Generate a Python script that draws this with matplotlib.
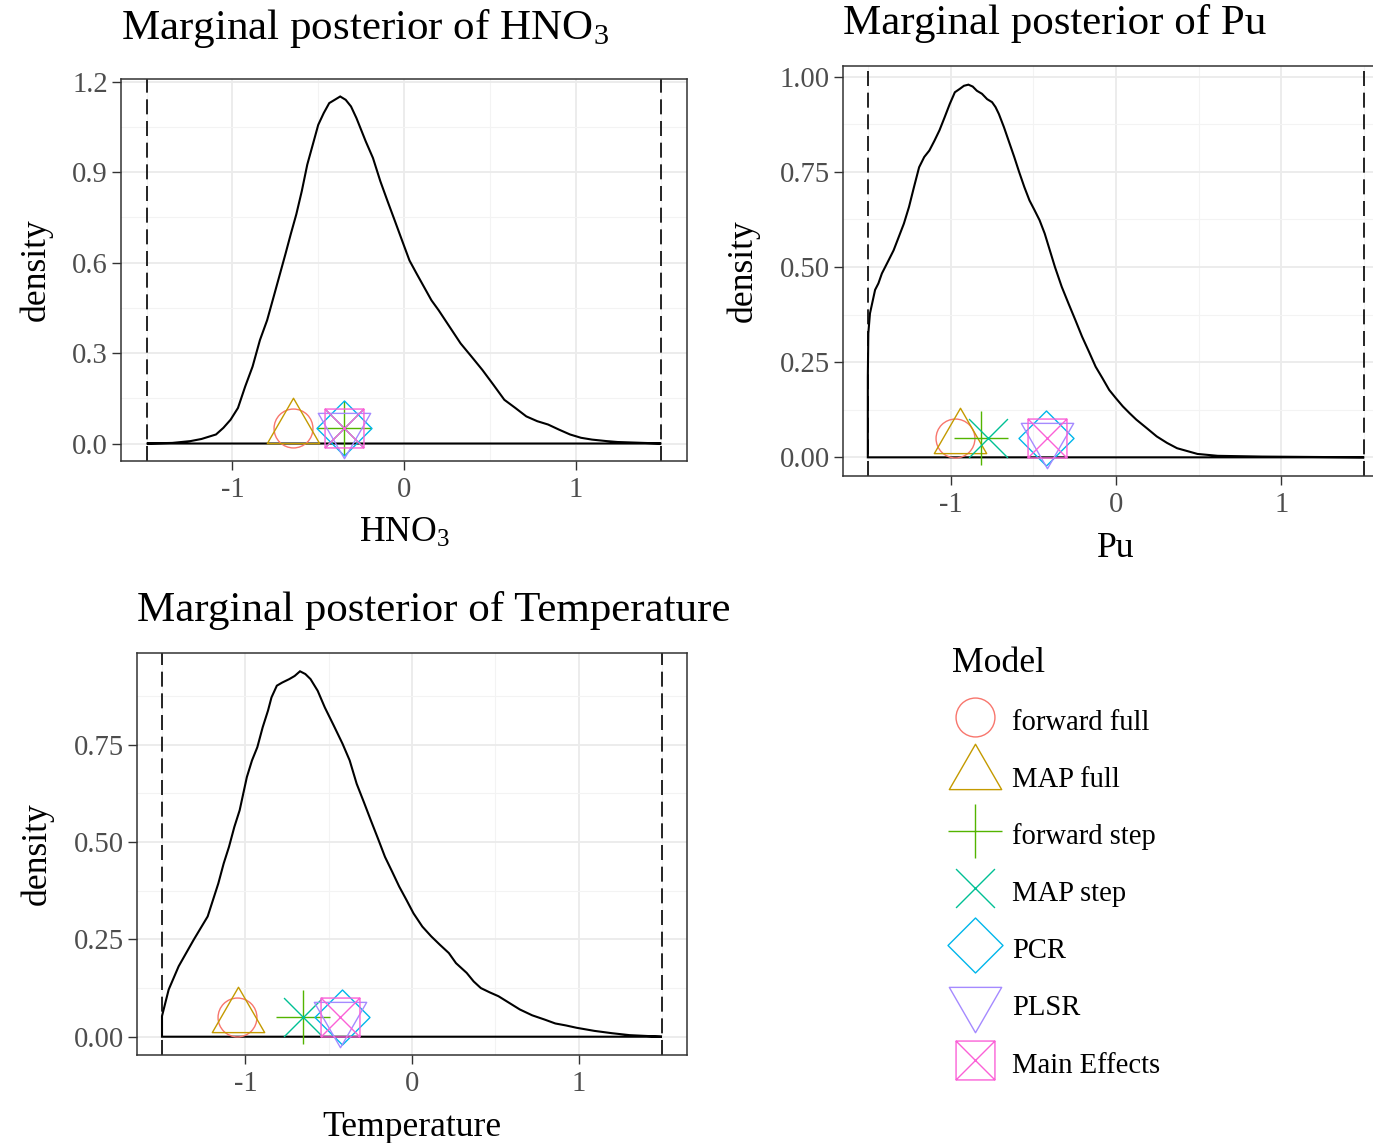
import numpy as np
import matplotlib
matplotlib.use("Agg")
import matplotlib.pyplot as plt
from matplotlib.path import Path
from matplotlib.lines import Line2D

# marginal posterior densities
hno3_x = [-1.5, -1.351, -1.245, -1.181, -1.096, -1.053, -1.011, -0.968, -0.926, -0.883, -0.840,
          -0.798, -0.755, -0.723, -0.691, -0.660, -0.628, -0.596, -0.564, -0.532, -0.500,
          -0.468, -0.436, -0.404, -0.372, -0.340, -0.309, -0.277, -0.223, -0.181, -0.138,
          -0.096, -0.053, -0.011, 0.032, 0.074, 0.117, 0.160, 0.202, 0.266, 0.330, 0.394,
          0.457, 0.521, 0.585, 0.649, 0.713, 0.777, 0.840, 0.904, 0.968, 1.032, 1.096,
          1.181, 1.245, 1.5]
hno3_y = [0.0, 0.002, 0.008, 0.015, 0.030, 0.052, 0.079, 0.118, 0.189, 0.255, 0.343,
          0.409, 0.497, 0.563, 0.629, 0.695, 0.760, 0.837, 0.925, 0.991, 1.057,
          1.096, 1.129, 1.140, 1.151, 1.140, 1.118, 1.079, 1.002, 0.947, 0.870,
          0.804, 0.738, 0.673, 0.607, 0.563, 0.519, 0.475, 0.442, 0.387, 0.332, 0.288,
          0.244, 0.195, 0.145, 0.118, 0.090, 0.074, 0.063, 0.046, 0.030, 0.019, 0.013,
          0.008, 0.005, 0.0]

pu_x = [-1.5, -1.5, -1.497, -1.487, -1.456, -1.436, -1.415, -1.374, -1.344, -1.313, -1.282,
        -1.251, -1.221, -1.190, -1.159, -1.128, -1.097, -1.067, -1.036, -1.005, -0.974,
        -0.944, -0.919, -0.892, -0.866, -0.841, -0.810, -0.779, -0.749, -0.728, -0.708,
        -0.677, -0.646, -0.615, -0.585, -0.554, -0.523, -0.492, -0.462, -0.431, -0.400,
        -0.369, -0.328, -0.287, -0.246, -0.205, -0.164, -0.123, -0.082, -0.041, 0.0,
        0.041, 0.082, 0.123, 0.185, 0.246, 0.308, 0.369, 0.492, 0.615, 0.882, 1.5]
pu_y = [0.0, 0.21, 0.326, 0.378, 0.44, 0.457, 0.483, 0.518, 0.544, 0.579, 0.614,
        0.658, 0.71, 0.762, 0.789, 0.806, 0.832, 0.859, 0.893, 0.928, 0.959,
        0.968, 0.976, 0.979, 0.974, 0.963, 0.955, 0.941, 0.933, 0.920, 0.902,
        0.867, 0.828, 0.789, 0.749, 0.710, 0.675, 0.649, 0.623, 0.588, 0.544,
        0.500, 0.448, 0.404, 0.361, 0.317, 0.278, 0.238, 0.208, 0.177, 0.155,
        0.134, 0.116, 0.099, 0.077, 0.055, 0.038, 0.024, 0.009, 0.004, 0.002, 0.0]

temp_x = [-1.5, -1.5, -1.46, -1.40, -1.31, -1.226, -1.162, -1.13, -1.098, -1.066, -1.034,
          -0.991, -0.96, -0.928, -0.896, -0.864, -0.843, -0.811, -0.779, -0.736, -0.704,
          -0.672, -0.640, -0.609, -0.566, -0.523, -0.470, -0.417, -0.374, -0.332, -0.289,
          -0.247, -0.204, -0.162, -0.119, -0.077, -0.034, 0.009, 0.062, 0.115, 0.168,
          0.221, 0.264, 0.328, 0.370, 0.413, 0.466, 0.519, 0.583, 0.647, 0.721, 0.796,
          0.860, 0.923, 0.987, 1.094, 1.2, 1.306, 1.5]
temp_y = [0.0, 0.053, 0.121, 0.181, 0.249, 0.309, 0.394, 0.445, 0.488, 0.539, 0.582,
          0.667, 0.71, 0.744, 0.795, 0.838, 0.872, 0.902, 0.910, 0.919, 0.927,
          0.939, 0.932, 0.919, 0.889, 0.846, 0.80, 0.753, 0.71, 0.650, 0.603,
          0.556, 0.509, 0.462, 0.424, 0.386, 0.352, 0.317, 0.283, 0.258, 0.236,
          0.215, 0.189, 0.164, 0.142, 0.125, 0.114, 0.104, 0.087, 0.070, 0.055, 0.044,
          0.034, 0.029, 0.023, 0.015, 0.009, 0.004, 0.0]

bounds = [-1.5, 1.5]

models = ["forward full", "MAP full", "forward step", "MAP step", "PCR", "PLSR", "Main Effects"]
hno3_est = [-0.65, -0.65, -0.35, -0.35, -0.35, -0.35, -0.35]
pu_est = [-0.975, -0.945, -0.818, -0.773, -0.421, -0.42, -0.42]
temp_est = [-1.05, -1.044, -0.655, -0.655, -0.421, -0.435, -0.43]
est_y = 0.05

colors = ["#F8766D", "#C49A00", "#53B400", "#00C094", "#00B6EB", "#A58AFF", "#FB61D7"]

# R style point shapes, in units of the circle radius
M, L, C = Path.MOVETO, Path.LINETO, Path.CLOSEPOLY
t0, t1, t2 = 1.5551, 1.3468, 0.7776
s2 = np.sqrt(2)
shapes = [
    Path.unit_circle(),
    Path([(0, t0), (t1, -t2), (-t1, -t2), (0, t0)], [M, L, L, C]),
    Path([(-s2, 0), (s2, 0), (0, -s2), (0, s2)], [M, L, M, L]),
    Path([(-1, -1), (1, 1), (-1, 1), (1, -1)], [M, L, M, L]),
    Path([(0, s2), (s2, 0), (0, -s2), (-s2, 0), (0, s2)], [M, L, L, L, C]),
    Path([(0, -t0), (t1, t2), (-t1, t2), (0, -t0)], [M, L, L, C]),
    Path([(-1, -1), (1, -1), (1, 1), (-1, 1), (-1, -1), (-1, -1), (1, 1), (-1, 1), (1, -1)],
         [M, L, L, L, C, M, L, M, L]),
]
R_pt = 14.0
def msize(p):
    return 2 * np.abs(p.vertices).max() * R_pt

plt.rcParams["font.family"] = ["Liberation Serif", "DejaVu Serif"]
plt.rcParams["mathtext.default"] = "regular"
plt.rcParams["axes.unicode_minus"] = False

fig = plt.figure(figsize=(13.73, 11.43), dpi=100)
W, H = 1373, 1143

def panel(box, x, y, est, ylim, yticks, ylabels, title, xlabel, tpad):
    l, t, r, b = box
    ax = fig.add_axes([l / W, 1 - b / H, (r - l) / W, (b - t) / H])
    ax.set_xlim(-1.65, 1.65)
    ax.set_xticks([-1, 0, 1])
    ax.set_xticklabels(["-1", "0", "1"])
    ax.set_xticks([-1.5, -0.5, 0.5, 1.5], minor=True)
    ax.set_yticks(yticks)
    ax.set_yticklabels(ylabels)
    step = yticks[1] - yticks[0]
    ax.set_yticks([v + step / 2 for v in yticks], minor=True)
    ax.set_ylim(*ylim)
    ax.grid(True, which="major", color="#EBEBEB", lw=1.3, zorder=0)
    ax.grid(True, which="minor", color="#F3F3F3", lw=0.8, zorder=0)
    ax.tick_params(which="major", length=6.5, width=1, color="#333333", labelcolor="#4D4D4D",
                   labelsize=20.6, pad=3)
    ax.tick_params(axis="x", which="major", pad=5)
    ax.tick_params(which="minor", length=0)
    for s in ax.spines.values():
        s.set_color("#333333")
        s.set_linewidth(1.1)
    ax.set_axisbelow(True)
    for bnd in bounds:
        ax.axvline(bnd, color="black", lw=1.2, ls=(0, (9, 4)), zorder=2)
    ax.fill(x, y, fill=False, ec="black", lw=1.5, zorder=3)
    for xi, shp, col in zip(est, shapes, colors):
        ax.plot([xi], [est_y], ls="none", marker=shp, ms=msize(shp), mfc="none",
                mec=col, mew=1.0, zorder=4)
    ax.set_title(title, loc="left", fontsize=31, pad=tpad)
    ax.set_xlabel(xlabel, fontsize=25.7, labelpad=10)
    ax.set_ylabel("density", fontsize=25.7, labelpad=14)
    return ax

panel((121, 79, 687, 461), hno3_x, hno3_y, hno3_est, (-0.058, 1.209),
      [0, 0.3, 0.6, 0.9, 1.2], ["0.0", "0.3", "0.6", "0.9", "1.2"],
      "Marginal posterior of HNO$_3$", "HNO$_3$", 29)
panel((843, 66, 1389, 476), pu_x, pu_y, pu_est, (-0.049, 1.028),
      [0, 0.25, 0.5, 0.75, 1.0], ["0.00", "0.25", "0.50", "0.75", "1.00"],
      "Marginal posterior of Pu", "Pu", 23)
panel((137, 653, 687, 1055), temp_x, temp_y, temp_est, (-0.047, 0.986),
      [0, 0.25, 0.5, 0.75], ["0.00", "0.25", "0.50", "0.75"],
      "Marginal posterior of Temperature", "Temperature", 23)

handles = [Line2D([], [], ls="none", marker=shp, ms=msize(shp), mfc="none", mec=col, mew=1.0)
           for shp, col in zip(shapes, colors)]
fig.legend(handles, models, title="Model", loc="upper left",
           bbox_to_anchor=(952 / W, 1 - 647 / H), frameon=False, fontsize=20.6,
           title_fontsize=25.7, alignment="left", borderpad=0, borderaxespad=0,
           handlelength=1.6, handleheight=1.4, handletextpad=0.5, labelspacing=0.84)

fig.savefig("out.png", dpi=100)
